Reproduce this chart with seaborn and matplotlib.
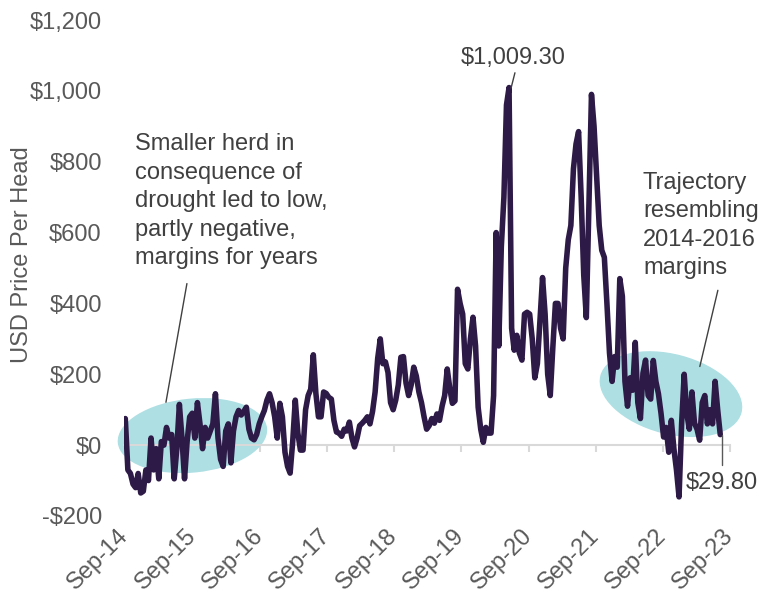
import numpy as np
import pandas as pd
import matplotlib
matplotlib.use("Agg")
import matplotlib.pyplot as plt
import matplotlib.dates as mdates
from matplotlib.patches import Ellipse
from matplotlib.transforms import ScaledTranslation
import seaborn as sns

# ---------------- data (USD margin per head, read every two weeks) ----------------
start_date = "2014-09-01"
step = "14D"
m_2014_15 = [75, -70, -80, -110, -120, -80, -135, -130, -70, -100, 20, -70, -10,
             -95, 10, 0, 50, 20, 30, -95, -10, 115, 20, -95, 10, 80]
m_2015_16 = [90, 20, 120, 60, -10, 50, 20, 40, 60, 145, 20, -40, -60,
             40, 60, -50, 40, 80, 98, 85, 95, 107, 45, 20, 15, 30]
m_2016_17 = [60, 80, 98, 127, 145, 120, 80, 20, 118, 80, -20, -60, -79,
             10, 127, 34, -14, -14, 100, 140, 158, 255, 146, 80, 80, 150]
m_2017_18 = [146, 135, 130, 70, 37, 34, 25, 45, 40, 65, 20, -5, 20,
             55, 62, 70, 80, 60, 95, 150, 245, 300, 230, 235, 205, 120]
m_2018_19 = [100, 127, 170, 248, 250, 175, 140, 170, 220, 195, 150, 120, 80,
             45, 55, 75, 62, 88, 70, 110, 140, 215, 160, 118, 125, 440]
m_2019_20 = [400, 370, 230, 215, 300, 361, 280, 107, 45, 8, 50, 34, 34,
             140, 600, 280, 560, 700, 960, 1009.3, 330, 268, 310, 260, 240, 370]
m_2020_21 = [375, 370, 300, 190, 230, 352, 473, 370, 200, 140, 276, 400, 400,
             330, 300, 500, 580, 620, 780, 850, 885, 700, 480, 360, 680, 990]
m_2021_22 = [900, 760, 620, 550, 530, 400, 260, 180, 250, 220, 470, 420, 180,
             110, 190, 155, 290, 120, 75, 203, 240, 140, 130, 239, 180, 145]
m_2022_23 = [90, 23, 50, -20, 70, -10, -70, -146, 60, 200, 90, 45, 150,
             62, 45, 14, 120, 140, 60, 100, 60, 180, 100, 29.8]

margins = (m_2014_15 + m_2015_16 + m_2016_17 + m_2017_18 + m_2018_19 +
           m_2019_20 + m_2020_21 + m_2021_22 + m_2022_23)
dates = pd.date_range(start_date, periods=len(margins), freq=step)
df = pd.DataFrame({"date": dates, "margin": margins})

tick_years = list(range(2014, 2024))
y_ticks = [-200, 0, 200, 400, 600, 800, 1000, 1200]
peak_label = "$1,009.30"
last_label = "$29.80"
left_note = "Smaller herd in\nconsequence of\ndrought led to low,\npartly negative,\nmargins for years"
right_note = "Trajectory\nresembling\n2014-2016\nmargins"

# ---------------- style ----------------
sns.set_theme(style="white")
plt.rcParams["font.family"] = ["Liberation Sans", "DejaVu Sans"]
LINE = "#2E1A47"
TEAL = "#ADDFE3"
GREY = "#595959"
DARK = "#404040"
AXIS = "#D9D9D9"
FS = 17

fig = plt.figure(figsize=(7.71, 6.02), dpi=100)
ax = fig.add_axes([124 / 771, 86 / 602, 606 / 771, 496 / 602])

sns.lineplot(data=df, x="date", y="margin", ax=ax, color=LINE, linewidth=4.0,
             zorder=4, solid_joinstyle="round", solid_capstyle="round")

ax.set_xlim(pd.Timestamp("2014-08-25"), pd.Timestamp("2023-09-01"))
ax.set_ylim(-200, 1200)

# axis styling
for s in ["left", "right", "top"]:
    ax.spines[s].set_visible(False)
ax.spines["bottom"].set_position(("data", 0))
ax.spines["bottom"].set_color(AXIS)
ax.spines["bottom"].set_linewidth(1.5)
ax.spines["bottom"].set_zorder(2)

ax.set_yticks(y_ticks)
ax.set_yticklabels([("-$" if v < 0 else "$") + f"{abs(v):,}" for v in y_ticks])
ax.tick_params(axis="y", length=0, pad=16, labelsize=FS, labelcolor=GREY)

xt = [pd.Timestamp(f"{y}-09-01") for y in tick_years]
ax.set_xticks(xt)
ax.set_xticklabels([t.strftime("%b-%y") for t in xt])
ax.tick_params(axis="x", direction="out", length=5, width=1.5, color=AXIS,
               pad=58, labelsize=FS, labelcolor=GREY, bottom=True)
for lab in ax.get_xticklabels():
    lab.set_rotation(45)
    lab.set_ha("right")
    lab.set_va("center")
    lab.set_rotation_mode("anchor")

ax.set_xlabel("")
ax.set_ylabel("USD Price Per Head", fontsize=FS, color=GREY)
ax.yaxis.set_label_coords(-0.15, 0.526)
ax.grid(False)

# highlight ellipses (sized in inches, centred on data points)
def add_ellipse(date, val, w, h, ang):
    xn = mdates.date2num(pd.Timestamp(date))
    tr = fig.dpi_scale_trans + ScaledTranslation(xn, val, ax.transData)
    ax.add_patch(Ellipse((0, 0), w, h, angle=ang, transform=tr, clip_on=False,
                         facecolor=TEAL, edgecolor="none", zorder=1))

add_ellipse("2015-09-01", 27, 1.50, 0.74, 5.6)
add_ellipse("2022-10-15", 144, 1.46, 0.80, -14.8)

# annotations
T = pd.Timestamp
ax.text(T("2014-10-24"), 880, left_note, fontsize=FS, color=DARK,
        ha="left", va="top", linespacing=1.38, zorder=5)
ax.plot([T("2015-08-02"), T("2015-04-10")], [456, 121], color=DARK, lw=1, zorder=5)

ax.text(T("2022-05-16"), 772, right_note, fontsize=FS, color=DARK,
        ha="left", va="top", linespacing=1.38, zorder=5)
ax.plot([T("2023-06-27"), T("2023-03-21")], [437, 222], color=DARK, lw=1, zorder=5)

ax.text(T("2020-06-08"), 1093, peak_label, fontsize=FS, color=DARK,
        ha="center", va="center", zorder=5)
ax.plot([T("2020-06-19"), T("2020-05-29")], [1051, 1008], color=DARK, lw=1, zorder=5)

ax.text(T("2023-07-19"), -107, last_label, fontsize=FS, color=DARK,
        ha="center", va="center", zorder=5)
ax.plot([T("2023-07-19"), T("2023-07-19")], [28, -56], color=GREY, lw=1, zorder=5)

fig.savefig("out.png", dpi=100)
